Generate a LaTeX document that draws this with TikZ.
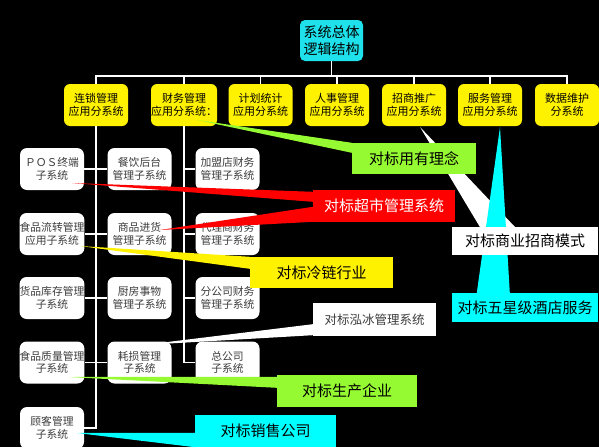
\documentclass[tikz,border=0pt]{standalone}
\usepackage{fontspec}
\setmainfont{Noto Sans CJK SC}
\usetikzlibrary{calc}
\definecolor{topcyan}{RGB}{30,225,235}
\definecolor{aqua}{RGB}{0,255,255}
\definecolor{limegreen}{RGB}{150,250,50}
\definecolor{boxtext}{RGB}{60,60,60}
\pgfdeclarelayer{wedges}
\pgfdeclarelayer{front}
\pgfsetlayers{main,wedges,front}
\begin{document}
\begin{tikzpicture}[x=1pt,y=-1pt]
		\tikzset{rootbox/.style = {fill=topcyan,rounded corners=5pt,minimum width=63pt,minimum height=41pt,inner sep=0pt,align=center,font=\fontsize{14}{17}\selectfont}}
		\tikzset{subsys/.style = {fill=yellow,rounded corners=6pt,minimum width=64pt,minimum height=42pt,inner sep=0pt,align=center,font=\fontsize{11}{13.5}\selectfont}}
		\tikzset{module/.style = {fill=white,text=boxtext,rounded corners=7pt,minimum width=64pt,minimum height=42pt,inner sep=0pt,align=center,font=\fontsize{10.8}{12.5}\selectfont}}
		\tikzset{callout/.style = {minimum height=31pt,inner sep=0pt,font=\fontsize{15}{17}\selectfont}}
		\tikzset{tree/.style = {draw=white,line width=1.6pt}}
		\fill[black] (0,0) rectangle (599,447);
		\useasboundingbox (0,0) rectangle (599,447);
		% top and first level
		\node[rootbox] (root) at (331.5,40.5) {系统总体\\逻辑结构};
		\node[subsys] (lianSuo) at (96,105) {连锁管理\\应用分系统};
		\node[subsys] (caiWu) at (184,105) {财务管理\\应用分系统：};
		\node[subsys] (jiHua) at (260.5,105) {计划统计\\应用分系统};
		\node[subsys] (renShi) at (337,105) {人事管理\\应用分系统};
		\node[subsys] (zhaoTui) at (414,105) {招商推广\\应用分系统};
		\node[subsys] (fuWu) at (490,105) {服务管理\\应用分系统};
		\node[subsys] (shuJu) at (567,105) {数据维护\\分系统};
		\foreach \n in {lianSuo,caiWu,jiHua,renShi,zhaoTui,fuWu,shuJu}
			\draw[tree] (root.south) -- ++(0,15) -| (\n.north);
		% second level
		\node[module] (pos) at (52,169) {ＰＯＳ终端\\子系统};
		\node[module] (liuZhuan) at (52,234) {食品流转管理\\应用子系统};
		\node[module] (kuCun) at (52,298) {货品库存管理\\子系统};
		\node[module] (zhiLiang) at (52,362.5) {食品质量管理\\子系统};
		\node[module] (guKe) at (52,428) {顾客管理\\子系统};
		\node[module] (canYin) at (139.5,169) {餐饮后台\\管理子系统};
		\node[module] (jinHuo) at (139.5,234) {商品进货\\管理子系统};
		\node[module] (chuFang) at (139.5,298) {厨房事物\\管理子系统};
		\node[module] (sunHao) at (139.5,362.5) {耗损管理\\子系统};
		\node[module] (jiaMeng) at (227.5,169) {加盟店财务\\管理子系统};
		\node[module] (daiLi) at (227.5,234) {代理商财务\\管理子系统};
		\node[module] (fenGongSi) at (227.5,298) {分公司财务\\管理子系统};
		\node[module] (zongGongSi) at (227.5,362.5) {总公司\\子系统};
		\foreach \n in {pos,liuZhuan,kuCun,zhiLiang,guKe}
			\draw[tree] (lianSuo.south) |- (\n.east);
		\foreach \n in {canYin,jinHuo,chuFang,sunHao}
			\draw[tree] (lianSuo.south) |- (\n.west);
		\foreach \n in {jiaMeng,daiLi,fenGongSi,zongGongSi}
			\draw[tree] (caiWu.south) |- (\n.west);
		% benchmark callouts
		\begin{pgfonlayer}{front}
		\node[callout,fill=limegreen,minimum width=124pt] (yongYou) at (414,158.5) {对标用有理念};
		\node[callout,fill=red,text=white,minimum width=142pt,minimum height=32pt] (chaoShi) at (384,206) {对标超市管理系统};
		\node[callout,fill=yellow,minimum width=143pt] (lengLian) at (321.5,272.5) {对标冷链行业};
		\node[callout,fill=white,minimum width=146pt,minimum height=28pt] (zhaoShang) at (525,241) {对标商业招商模式};
		\node[callout,fill=aqua,minimum width=146pt,minimum height=29pt] (jiuDian) at (525,307.5) {对标五星级酒店服务};
		\node[callout,fill=white,text=boxtext,minimum width=123pt,minimum height=33pt,font=\fontsize{12.5}{15}\selectfont] (hongBing) at (374.5,319.5) {对标泓冰管理系统};
		\node[callout,fill=limegreen,minimum width=140pt,minimum height=32pt] (shengChan) at (347,391) {对标生产企业};
		\node[callout,fill=aqua,minimum width=141pt,minimum height=32pt] (xiaoShou) at (265.5,431) {对标销售公司};
		\end{pgfonlayer}
		\coordinate (tYongYou) at (197,120);
		\coordinate (tPos) at (72,183);
		\coordinate (tJinHuo) at (160,230);
		\coordinate (tLiuZhuan) at (80,246);
		\coordinate (tZhaoTui) at (420,127);
		\coordinate (tFuWu) at (500,127);
		\coordinate (tSunHao) at (143,345);
		\coordinate (tZhiLiang) at (68,377);
		\coordinate (tGuKe) at (77,433);
		\begin{pgfonlayer}{wedges}
		\fill[limegreen] (tYongYou) -- (yongYou.north west) -- ($(yongYou.north west)+(0,10)$) -- cycle;
		\fill[red] (tPos) -- ($(chaoShi.north west)+(0,2)$) -- ($(chaoShi.north west)+(0,12)$) -- cycle;
		\fill[red] (tJinHuo) -- ($(chaoShi.north west)+(0,17)$) -- ($(chaoShi.north west)+(0,32)$) -- cycle;
		\fill[yellow] (tLiuZhuan) -- (lengLian.north west) -- ($(lengLian.north west)+(0,12)$) -- cycle;
		\fill[white] (tZhaoTui) -- ($(zhaoShang.north west)+(28,0)$) -- ($(zhaoShang.north west)+(63,0)$) -- cycle;
		\fill[aqua] (tFuWu) -- ($(jiuDian.north west)+(25,0)$) -- ($(jiuDian.north west)+(58,0)$) -- cycle;
		\fill[white] (tSunHao) -- ($(hongBing.south west)+(0,-12)$) -- ($(hongBing.south west)+(0,-1)$) -- cycle;
		\fill[limegreen] (tZhiLiang) -- ($(shengChan.north west)+(0,2)$) -- ($(shengChan.north west)+(0,13)$) -- cycle;
		\fill[aqua] (tGuKe) -- ($(xiaoShou.north west)+(0,18)$) -- (xiaoShou.south west) -- cycle;
		\end{pgfonlayer}
	\end{tikzpicture}
\end{document}
